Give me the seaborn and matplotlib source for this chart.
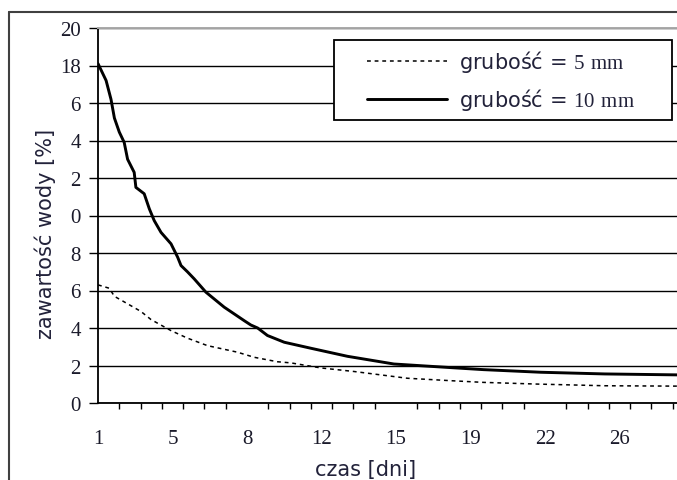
import matplotlib
matplotlib.use("Agg")
import matplotlib.pyplot as plt
from matplotlib.legend_handler import HandlerLine2D
from matplotlib.lines import Line2D
import pandas as pd
import seaborn as sns

sns.set_style("white")
plt.rcParams["font.family"] = ["DejaVu Sans"]
plt.rcParams["mathtext.fontset"] = "custom"
plt.rcParams["mathtext.rm"] = "Liberation Serif"

# dane
czas_10mm = [1.0, 1.38, 1.61, 1.77, 2.0, 2.23, 2.39, 2.70, 2.78, 3.17, 3.41, 3.64,
             3.96, 4.43, 4.74, 4.9, 5.2, 5.52, 6.07, 6.93, 7.87, 8.18, 8.5, 8.96,
             9.75, 11.0, 12.72, 14.9, 17.4, 19.1, 21.8, 24.8, 28.2]
woda_10mm = [18.1, 17.2, 16.2, 15.2, 14.45, 13.9, 13.0, 12.3, 11.5, 11.16, 10.36, 9.73,
             9.1, 8.49, 7.78, 7.33, 7.0, 6.62, 5.91, 5.11, 4.39, 4.16, 4.0, 3.6,
             3.24, 2.92, 2.49, 2.08, 1.9, 1.78, 1.64, 1.55, 1.5]

czas_5mm = [1.0, 1.53, 1.77, 2.39, 3.02, 3.49, 4.43, 5.2, 6.14, 7.55, 8.33, 9.43,
            10.06, 11.47, 13.03, 15.53, 17.57, 19.1, 21.6, 24.8, 28.2]
woda_5mm = [6.3, 6.12, 5.69, 5.29, 4.88, 4.45, 3.86, 3.46, 3.06, 2.71, 2.44, 2.2,
            2.14, 1.87, 1.68, 1.32, 1.19, 1.1, 1.01, 0.92, 0.9]

etykiety_x = ["1", "5", "8", "12", "15", "19", "22", "26"]
pozycje_x = [1 + 3.5 * i for i in range(len(etykiety_x))]
etykiety_y = ["0", "2", "4", "6", "8", "0", "2", "4", "6", "18", "20"]

df5 = pd.DataFrame({"czas": czas_5mm, "woda": woda_5mm})
df10 = pd.DataFrame({"czas": czas_10mm, "woda": woda_10mm})


class UchwytZOdstepem(HandlerLine2D):
    """Linia w legendzie zaczyna się nieco dalej od lewej krawędzi ramki."""

    def get_xdata(self, legend, xdescent, ydescent, width, height, fontsize):
        xdata, xdata_marker = super().get_xdata(legend, xdescent, ydescent, width, height, fontsize)
        return [xdata[0] + 0.24 * width, xdata[-1]], xdata_marker


fig = plt.figure(figsize=(6.77, 4.81), dpi=100)
ax = fig.add_axes([98 / 677, 1 - 404 / 481, 1 - 98 / 677, (404 - 29) / 481])

sns.lineplot(data=df5, x="czas", y="woda", ax=ax, color="black", linewidth=1.1,
             linestyle=(0, (2.5, 2.5)), sort=False, estimator=None,
             label=r"grubość = $5\ \mathrm{mm}$")
sns.lineplot(data=df10, x="czas", y="woda", ax=ax, color="black", linewidth=2.1,
             sort=False, estimator=None, label=r"grubość = $10\ \mathrm{mm}$")

ax.set_xlim(1, 28.2)
ax.set_ylim(0, 20)
ax.set_yticks(range(0, 21, 2))
ax.set_yticklabels(etykiety_y, family="Liberation Serif", fontsize=15, color="#1a1a2a")
ax.set_xticks(pozycje_x)
ax.set_xticklabels(etykiety_x, family="Liberation Serif", fontsize=15, color="#1a1a2a")
ax.set_xticks(range(1, 29), minor=True)
ax.tick_params(axis="x", which="major", length=0, pad=19)
ax.tick_params(axis="x", which="minor", bottom=True, length=4.5, width=1, color="black", direction="out")
ax.tick_params(axis="y", which="major", left=True, length=6.5, width=1, color="black",
               direction="out", pad=6)

ax.grid(axis="y", color="black", linewidth=1.0)
ax.set_axisbelow(True)
for s in ["left", "bottom"]:
    ax.spines[s].set_color("black")
    ax.spines[s].set_linewidth(1.3)
ax.spines["top"].set_color("#a8a8a8")
ax.spines["top"].set_linewidth(1.4)
ax.spines["right"].set_visible(False)

ax.set_xlabel("czas [dni]", fontsize=15, color="#22223a", va="center")
ax.xaxis.set_label_coords((366 - 98) / 579, (404 - 470) / 375)
ax.set_ylabel("zawartość wody [%]", fontsize=15, color="#22223a", va="center")
ax.yaxis.set_label_coords((45 - 98) / 579, (404 - 234) / 375)

leg = ax.legend(loc="upper left", mode="expand",
                bbox_to_anchor=((334 - 98) / 579, (404 - 123) / 375, (672 - 334) / 579, (123 - 41) / 375),
                borderaxespad=0, fancybox=False, framealpha=1, edgecolor="black",
                fontsize=15, handlelength=5.0, handletextpad=0.6, borderpad=0.4,
                labelspacing=0.55, handler_map={Line2D: UchwytZOdstepem()})
leg.get_frame().set_linewidth(1.3)
for t in leg.get_texts():
    t.set_color("#22223a")

fig.add_artist(Line2D([9 / 677, 9 / 677], [1 - 13 / 481, 0], transform=fig.transFigure,
                      color="#404040", linewidth=1.5))
fig.add_artist(Line2D([9 / 677, 1], [1 - 13 / 481, 1 - 13 / 481], transform=fig.transFigure,
                      color="#404040", linewidth=1.5))

fig.savefig("out.png", dpi=100)
